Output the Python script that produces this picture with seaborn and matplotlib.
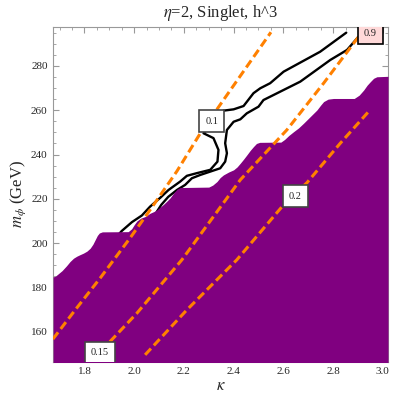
import numpy as np
import pandas as pd
import seaborn as sns
import matplotlib
matplotlib.use('Agg')
import matplotlib.pyplot as plt
from matplotlib.ticker import MultipleLocator

# *** データ ***
# 除外領域(紫)の境界
bound_k = [1.674, 1.682, 1.695, 1.710, 1.728, 1.742, 1.756, 1.769, 1.782, 1.796, 1.810, 1.823,
           1.834, 1.843, 1.852, 1.860, 1.872, 1.976, 1.990, 2.000, 2.011, 2.027, 2.044, 2.064,
           2.080, 2.091, 2.105, 2.118, 2.132, 2.145, 2.160, 2.172, 2.185, 2.300, 2.316, 2.333,
           2.346, 2.359, 2.380, 2.400, 2.414, 2.427, 2.440, 2.453, 2.467, 2.480, 2.492, 2.505,
           2.590, 2.605, 2.622, 2.641, 2.661, 2.681, 2.708, 2.735, 2.750, 2.762, 2.780, 2.802,
           2.885, 2.905, 2.923, 2.937, 2.950, 2.963, 2.976, 3.021]
bound_m = [184.8, 185.0, 186.2, 187.6, 189.8, 191.7, 193.2, 194.1, 194.8, 195.5, 196.4, 197.7,
           199.5, 201.5, 203.5, 204.6, 205.1, 205.2, 206.5, 208.3, 210.0, 211.3, 212.0, 213.5,
           214.3, 215.0, 216.3, 217.5, 219.0, 220.5, 222.8, 224.3, 225.1, 225.3, 226.2, 227.8,
           229.6, 230.8, 232.1, 233.1, 234.4, 236.1, 237.9, 239.8, 241.9, 243.6, 245.0, 245.5,
           245.6, 246.8, 248.6, 250.3, 252.0, 254.1, 257.1, 260.1, 262.3, 263.9, 265.0, 265.3,
           265.3, 266.8, 269.1, 271.3, 272.9, 274.4, 275.1, 275.3]

# 黒の等高線 (0.1)
line_a_k = [2.853, 2.748, 2.601, 2.547, 2.507, 2.480, 2.440, 2.400, 2.359, 2.279, 2.319, 2.339,
            2.335, 2.306, 2.252, 2.212, 2.185, 2.138, 2.105, 2.064, 2.031, 1.991, 1.950, 1.930]
line_a_m = [295.0, 286.4, 277.4, 272.2, 269.9, 267.7, 261.9, 260.4, 259.8, 249.6, 247.4, 242.1,
            236.8, 233.1, 231.6, 230.4, 227.8, 224.0, 220.5, 216.5, 212.5, 209.5, 205.5, 203.0]
# 黒の等高線 (0.9)
line_b_k = [2.900, 2.856, 2.789, 2.668, 2.561, 2.520, 2.500, 2.453, 2.427, 2.400, 2.373, 2.366,
            2.373, 2.366, 2.346, 2.306, 2.266, 2.232, 2.205, 2.172, 2.137, 2.109, 2.090]
line_b_m = [292.9, 287.2, 282.7, 272.9, 266.9, 264.6, 261.6, 258.6, 255.9, 254.8, 251.1, 245.1,
            240.6, 236.8, 233.8, 232.3, 230.8, 229.3, 226.3, 224.0, 220.9, 217.3, 214.0]

# オレンジ破線
orange1_k = [1.673, 1.763, 1.863, 1.984, 2.064, 2.172, 2.266, 2.359, 2.550]
orange1_m = [156.7, 169.9, 184.2, 202.4, 215.0, 232.5, 249.6, 264.6, 295.2]
orange2_k = [1.870, 1.903, 2.011, 2.192, 2.427, 2.614, 2.762, 2.915]
orange2_m = [151.0, 155.6, 168.4, 192.5, 228.6, 251.1, 272.2, 295.0]
orange3_k = [2.044, 2.212, 2.413, 2.601, 2.695, 2.829, 2.943]
orange3_m = [149.6, 169.9, 192.5, 217.3, 227.3, 245.1, 259.4]

# ラベル
label_text = ['0.1', '0.15', '0.2', '0.9']
label_k = [2.312, 1.862, 2.648, 2.950]
label_m = [255.1, 150.6, 221.2, 294.8]

x_min, x_max = 1.674, 3.021
y_min, y_max = 146.5, 297.7

sns.set_style('ticks')
plt.rcParams['font.family'] = ['Liberation Serif', 'DejaVu Serif']
plt.rcParams['mathtext.fontset'] = 'stix'

fig = plt.figure(figsize=(4.15, 3.96), dpi=100)
ax = fig.add_axes([0.128, 0.0866, 0.807, 0.846])

# 等高線(黒)
df_a = pd.DataFrame({'k': line_a_k, 'm': line_a_m})
df_b = pd.DataFrame({'k': line_b_k, 'm': line_b_m})
sns.lineplot(data=df_a, x='k', y='m', sort=False, estimator=None, color='black', lw=1.7, ax=ax, zorder=2)
sns.lineplot(data=df_b, x='k', y='m', sort=False, estimator=None, color='black', lw=1.7, ax=ax, zorder=2)

# 除外領域
ax.fill_between(bound_k, bound_m, y_min - 5, color='#800080', lw=0, zorder=3)

# オレンジ破線
for ks, ms in [(orange1_k, orange1_m), (orange2_k, orange2_m), (orange3_k, orange3_m)]:
    df_o = pd.DataFrame({'k': ks, 'm': ms})
    sns.lineplot(data=df_o, x='k', y='m', sort=False, estimator=None, color='#ff8000',
                 lw=2.2, ax=ax, zorder=4, dashes=False, linestyle=(0, (2.8, 1.4)))

# ラベルボックス
for t, k, m in zip(label_text, label_k, label_m):
    fc = '#ffd9d9' if t == '0.9' else 'white'
    ec = 'black' if t == '0.9' else '#444444'
    ax.text(k, m, t, fontsize=7.5, ha='center', va='center', zorder=6, color='#222222',
            bbox=dict(boxstyle='square,pad=0.6', fc=fc, ec=ec, lw=1.2), clip_on=True)

ax.set_xlim(x_min, x_max)
ax.set_ylim(y_min, y_max)
ax.set_xticks([1.8, 2.0, 2.2, 2.4, 2.6, 2.8, 3.0])
ax.set_yticks([160, 180, 200, 220, 240, 260, 280])
ax.xaxis.set_minor_locator(MultipleLocator(0.05))
ax.yaxis.set_minor_locator(MultipleLocator(5))
ax.tick_params(which='both', direction='in', top=True, right=True, color='#999999',
               labelsize=8, pad=4)
ax.tick_params(which='major', length=4, width=0.8)
ax.tick_params(which='minor', length=2, width=0.6)
for s in ax.spines.values():
    s.set_color('#999999')
    s.set_linewidth(0.8)

ax.set_xlabel(r'$\kappa$', fontsize=12, labelpad=1)
ax.set_ylabel(r'$m_\phi$ (GeV)', fontsize=12, labelpad=0)
ax.yaxis.set_label_coords(-0.076, 0.5)
ax.set_title(r'$\eta$=2, Singlet, h^3', fontsize=12, pad=7)

plt.savefig('out.png', dpi=100)
